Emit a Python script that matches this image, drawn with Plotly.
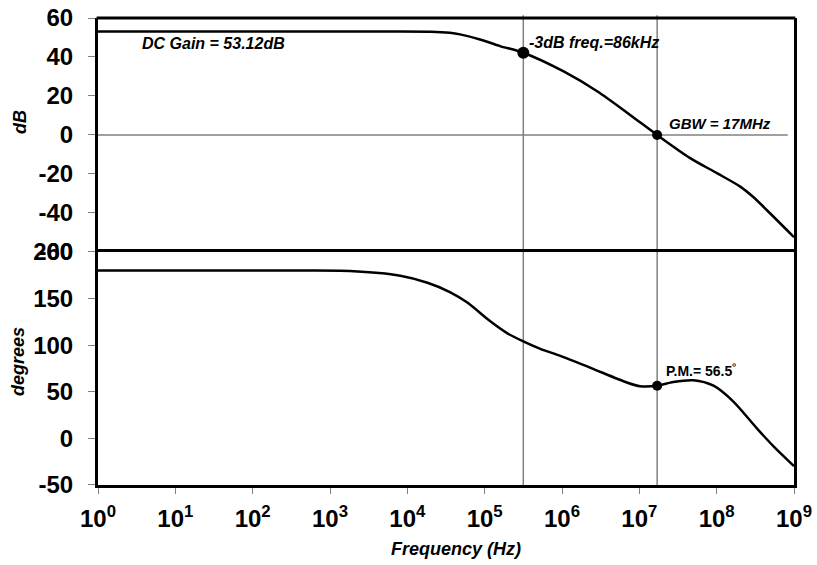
import math
import plotly.graph_objects as go
from plotly.subplots import make_subplots

# Open-loop magnitude response (Hz, dB)
mag_freq = [1, 10, 100, 1e3, 4e3, 2e4, 3.55e4, 4.8e4, 8.7e4, 1.58e5, 3.16e5, 1.05e6,
            2.88e6, 7.6e6, 1.7e7, 4.6e7, 1.02e8, 2.04e8, 2.95e8, 4.47e8, 1e9]
mag_db = [53.12, 53.12, 53.12, 53.12, 53.1, 53.0, 52.4, 51.6, 49.0, 45.6, 42.2, 32.6,
          22.3, 10.3, 0.0, -12.0, -19.7, -26.6, -31.7, -38.6, -52.4]

# Open-loop phase response (Hz, degrees)
ph_freq = [1, 10, 100, 400, 1.8e3, 8.1e3, 1.82e4, 3.55e4, 5.9e4, 1.17e5,
           1.95e5, 3.16e5, 5.25e5, 9.55e5, 2.3e6, 6.9e6, 1.02e7,
           1.7e7, 2.75e7, 5.0e7, 9.1e7, 1.62e8, 3.4e8, 5.4e8, 1e9]
ph_deg = [180, 180, 180, 180, 179.5, 174.5, 167, 157, 146, 126,
          113, 104, 96, 88.5, 76, 60, 56,
          56.5, 60.5, 62.4, 56.5, 40, 9.7, -8.3, -29.8]

# Marked operating points
f_corner, g_corner = 3.16e5, 42.2
f_gbw, g_gbw = 1.7e7, 0.0
pm_deg = 56.5

dc_label = "DC Gain = 53.12dB"
corner_label = "-3dB freq.=86kHz"
gbw_label = "GBW = 17MHz"
pm_label = "P.M.= 56.5<sup>º</sup>"

decades = list(range(0, 10))
x_tickvals = [10 ** k for k in decades]
x_ticktext = [f"10<sup>{k}</sup>" for k in decades]
db_ticks = [-60, -40, -20, 0, 20, 40, 60]
deg_ticks = [-50, 0, 50, 100, 150, 200]

FONT = "Arial, Liberation Sans, sans-serif"
GRID = "#808080"

fig = make_subplots(rows=2, cols=1, shared_xaxes=True, vertical_spacing=0)

curve = dict(color="black", width=2.5, shape="spline", smoothing=0.8)
fig.add_trace(go.Scatter(x=mag_freq, y=mag_db, mode="lines", line=curve,
                         hoverinfo="skip"), row=1, col=1)
fig.add_trace(go.Scatter(x=ph_freq, y=ph_deg, mode="lines", line=curve,
                         hoverinfo="skip"), row=2, col=1)

# Markers on the curves
fig.add_trace(go.Scatter(x=[f_corner], y=[g_corner], mode="markers",
                         marker=dict(color="black", size=12)), row=1, col=1)
fig.add_trace(go.Scatter(x=[f_gbw], y=[g_gbw], mode="markers",
                         marker=dict(color="black", size=10)), row=1, col=1)
fig.add_trace(go.Scatter(x=[f_gbw], y=[pm_deg], mode="markers",
                         marker=dict(color="black", size=10)), row=2, col=1)

# Reference lines: 0 dB and the two marked frequencies
fig.add_shape(type="line", xref="x", yref="y", x0=1, x1=8.3e8, y0=0, y1=0,
              line=dict(color=GRID, width=1.5), layer="below")
for f in (f_corner, f_gbw):
    fig.add_shape(type="line", xref="x", yref="paper", x0=f, x1=f, y0=0, y1=1.006,
                  line=dict(color=GRID, width=1.5), layer="below")

# Top border of the magnitude panel
fig.add_shape(type="line", xref="paper", yref="paper", x0=-0.002, x1=1.002,
              y0=1, y1=1, line=dict(color="black", width=3))

ann_font = dict(family=FONT, size=16, color="black", weight="bold", style="italic")
fig.add_annotation(x=math.log10(10), y=47, xref="x", yref="y", text=dc_label,
                   showarrow=False, xanchor="left", yanchor="middle", xshift=-35,
                   font=ann_font)
fig.add_annotation(x=math.log10(f_corner), y=g_corner, xref="x", yref="y",
                   text=corner_label, showarrow=False, xanchor="left",
                   yanchor="middle", xshift=4, yshift=10, font=ann_font)
fig.add_annotation(x=math.log10(f_gbw), y=g_gbw, xref="x", yref="y",
                   text=gbw_label, showarrow=False, xanchor="left",
                   yanchor="middle", xshift=10, yshift=11,
                   font=dict(ann_font, size=15))
fig.add_annotation(x=math.log10(f_gbw), y=pm_deg, xref="x2", yref="y2",
                   text=pm_label, showarrow=False, xanchor="left",
                   yanchor="middle", xshift=7, yshift=16,
                   font=dict(family=FONT, size=14, color="black", weight="bold"))

title_font = dict(family=FONT, size=18, color="black", weight="bold", style="italic")
fig.add_annotation(x=0, y=0.556, xref="paper", yref="y domain", text="dB",
                   textangle=-90, showarrow=False, xanchor="center", yanchor="middle",
                   xshift=-78, font=title_font)
fig.add_annotation(x=0, y=0.528, xref="paper", yref="y2 domain", text="degrees",
                   textangle=-90, showarrow=False, xanchor="center", yanchor="middle",
                   xshift=-80, font=title_font)
fig.add_annotation(x=0.514, y=0, xref="paper", yref="paper", text="Frequency (Hz)",
                   showarrow=False, xanchor="center", yanchor="middle", yshift=-64,
                   font=title_font)

tick_font = dict(family=FONT, size=24, color="black", weight="bold")
axis_common = dict(showline=True, linewidth=3, linecolor="black", mirror=True,
                   showgrid=False, zeroline=False, automargin=False)

fig.update_xaxes(type="log", range=[0, 9], tickvals=x_tickvals, ticktext=x_ticktext,
                 **axis_common)
fig.update_xaxes(showticklabels=False, ticks="", showline=False, row=1, col=1)
fig.update_xaxes(ticks="outside", ticklen=6, tickwidth=1, tickcolor=GRID,
                 tickfont=tick_font, ticklabelstandoff=4, row=2, col=1)

fig.update_yaxes(range=[-60, 60], tickvals=db_ticks, ticktext=[str(v) for v in db_ticks],
                 ticks="outside", ticklen=7, tickwidth=1, tickcolor=GRID,
                 tickfont=tick_font, ticklabelstandoff=10, domain=[0.499, 1.0],
                 row=1, col=1, **axis_common)
fig.update_yaxes(range=[-50, 200], tickvals=deg_ticks, ticktext=[str(v) for v in deg_ticks],
                 ticks="outside", ticklen=7, tickwidth=1, tickcolor=GRID,
                 tickfont=tick_font, ticklabelstandoff=10, domain=[0.0, 0.499],
                 row=2, col=1, **axis_common)

fig.update_layout(width=817, height=565, showlegend=False,
                  margin=dict(l=98, r=23, t=18, b=80),
                  paper_bgcolor="white", plot_bgcolor="white",
                  font=dict(family=FONT, color="black"))

fig.write_html("out.html")
